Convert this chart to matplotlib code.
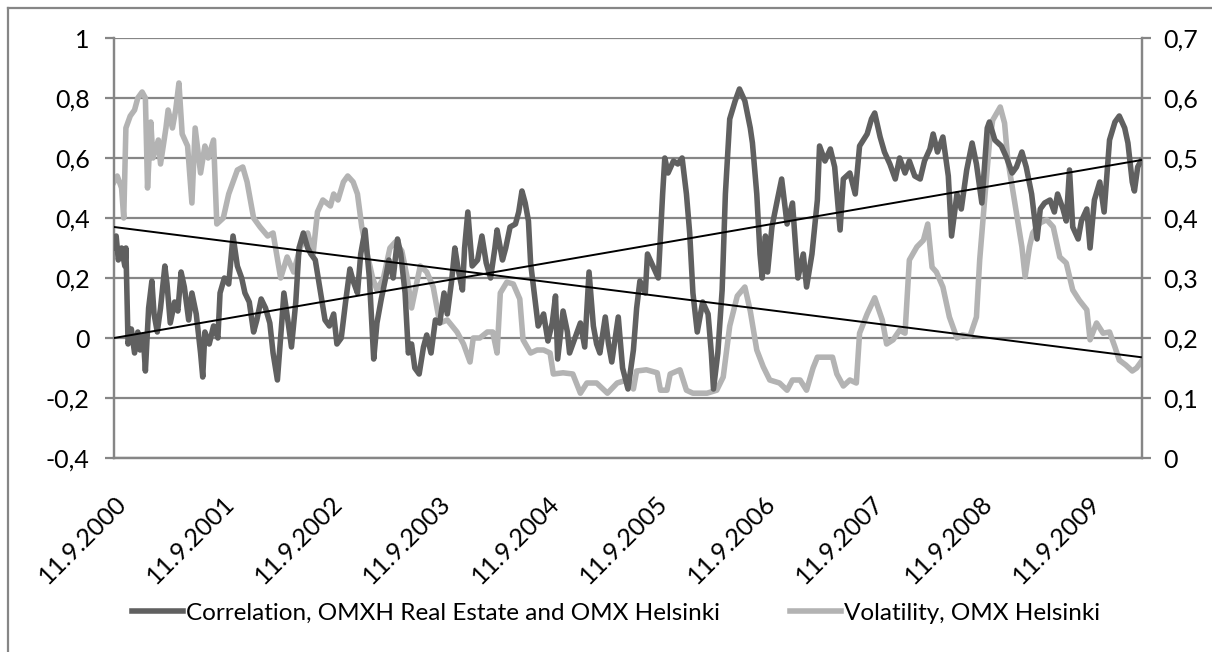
import datetime as dt
import numpy as np
import matplotlib
matplotlib.use("Agg")
import matplotlib.pyplot as plt
from matplotlib.lines import Line2D

plt.rcParams['font.family'] = ['Lato', 'DejaVu Sans']

# ---------------- data (decimal years, values) ----------------
corr_t = [2000.69, 2000.71, 2000.73, 2000.76, 2000.79, 2000.80, 2000.82, 2000.85, 2000.88, 2000.91,
          2000.93, 2000.96, 2000.98, 2001.01, 2001.04, 2001.06, 2001.09, 2001.12, 2001.16, 2001.18,
          2001.21, 2001.25, 2001.28, 2001.31, 2001.34, 2001.38, 2001.41, 2001.45, 2001.49, 2001.51,
          2001.53, 2001.57, 2001.61, 2001.65, 2001.67, 2001.71, 2001.75, 2001.79, 2001.83, 2001.87,
          2001.90, 2001.94, 2001.98, 2002.01, 2002.05, 2002.09, 2002.13, 2002.16, 2002.20, 2002.24,
          2002.26, 2002.30, 2002.33, 2002.37, 2002.40, 2002.44, 2002.48, 2002.51, 2002.55, 2002.60,
          2002.64, 2002.68, 2002.72, 2002.75, 2002.79, 2002.83, 2002.87, 2002.90, 2002.94, 2002.97,
          2003.01, 2003.05, 2003.09, 2003.12, 2003.16, 2003.20, 2003.23, 2003.27, 2003.31, 2003.34,
          2003.38, 2003.41, 2003.44, 2003.47, 2003.51, 2003.55, 2003.58, 2003.62, 2003.66, 2003.70,
          2003.74, 2003.77, 2003.81, 2003.84, 2003.87, 2003.91, 2003.93, 2003.96, 2004.00, 2004.05,
          2004.09, 2004.13, 2004.17, 2004.21, 2004.23, 2004.28, 2004.31, 2004.35, 2004.40, 2004.43,
          2004.46, 2004.49, 2004.52, 2004.54, 2004.57, 2004.61, 2004.66, 2004.70, 2004.74, 2004.77,
          2004.79, 2004.84, 2004.88, 2004.90, 2004.95, 2005.00, 2005.04, 2005.08, 2005.12, 2005.15,
          2005.18, 2005.23, 2005.26, 2005.29, 2005.35, 2005.39, 2005.44, 2005.49, 2005.52, 2005.55,
          2005.60, 2005.62, 2005.67, 2005.72, 2005.76, 2005.78, 2005.81, 2005.86, 2005.90, 2005.94,
          2005.98, 2006.01, 2006.04, 2006.08, 2006.13, 2006.18, 2006.21, 2006.23, 2006.27, 2006.31,
          2006.34, 2006.38, 2006.43, 2006.47, 2006.52, 2006.57, 2006.59, 2006.63, 2006.66, 2006.68,
          2006.71, 2006.73, 2006.77, 2006.82, 2006.86, 2006.91, 2006.96, 2007.01, 2007.06, 2007.09,
          2007.14, 2007.19, 2007.21, 2007.26, 2007.31, 2007.35, 2007.40, 2007.43, 2007.49, 2007.54,
          2007.58, 2007.65, 2007.69, 2007.72, 2007.77, 2007.81, 2007.86, 2007.91, 2007.95, 2008.00,
          2008.04, 2008.09, 2008.14, 2008.18, 2008.23, 2008.26, 2008.30, 2008.35, 2008.40, 2008.43,
          2008.48, 2008.52, 2008.57, 2008.62, 2008.66, 2008.71, 2008.76, 2008.78, 2008.83, 2008.89,
          2008.94, 2008.99, 2009.03, 2009.08, 2009.12, 2009.17, 2009.22, 2009.25, 2009.29, 2009.34,
          2009.38, 2009.41, 2009.46, 2009.49, 2009.52, 2009.55, 2009.60, 2009.63, 2009.68, 2009.71,
          2009.75, 2009.80, 2009.84, 2009.89, 2009.94, 2009.98, 2010.03, 2010.06, 2010.10, 2010.12,
          2010.15, 2010.18]
corr_v = [0.30, 0.34, 0.26, 0.30, 0.24, 0.30, -0.02, 0.03, -0.05, 0.02,
          -0.04, 0.01, -0.11, 0.10, 0.19, 0.08, 0.02, 0.10, 0.24, 0.18,
          0.05, 0.12, 0.09, 0.22, 0.17, 0.06, 0.15, 0.08, -0.05, -0.13,
          0.02, -0.02, 0.04, 0.00, 0.15, 0.20, 0.18, 0.34, 0.24, 0.20,
          0.15, 0.12, 0.02, 0.06, 0.13, 0.10, 0.05, -0.05, -0.14, 0.05,
          0.15, 0.05, -0.03, 0.12, 0.30, 0.35, 0.30, 0.28, 0.26, 0.15,
          0.06, 0.04, 0.08, -0.02, 0.00, 0.12, 0.23, 0.19, 0.15, 0.28,
          0.36, 0.20, -0.07, 0.05, 0.13, 0.20, 0.26, 0.20, 0.33, 0.28,
          0.15, -0.05, -0.02, -0.10, -0.12, -0.03, 0.01, -0.05, 0.06, 0.05,
          0.15, 0.08, 0.19, 0.30, 0.23, 0.16, 0.30, 0.42, 0.24, 0.26,
          0.34, 0.25, 0.20, 0.30, 0.36, 0.26, 0.30, 0.37, 0.38, 0.42,
          0.49, 0.45, 0.39, 0.25, 0.16, 0.04, 0.08, -0.01, 0.05, 0.14,
          -0.07, 0.09, 0.02, -0.05, 0.00, 0.05, -0.03, 0.22, 0.04, -0.02,
          -0.05, 0.07, -0.02, -0.08, 0.07, -0.10, -0.17, -0.04, 0.10, 0.19,
          0.15, 0.28, 0.24, 0.20, 0.48, 0.60, 0.55, 0.59, 0.58, 0.60,
          0.48, 0.35, 0.15, 0.02, 0.12, 0.08, -0.05, -0.17, -0.05, 0.16,
          0.48, 0.73, 0.79, 0.83, 0.79, 0.70, 0.65, 0.48, 0.28, 0.20,
          0.34, 0.22, 0.37, 0.46, 0.53, 0.38, 0.45, 0.20, 0.28, 0.17,
          0.28, 0.46, 0.64, 0.59, 0.63, 0.57, 0.36, 0.53, 0.55, 0.48,
          0.64, 0.68, 0.73, 0.75, 0.67, 0.62, 0.58, 0.53, 0.60, 0.55,
          0.59, 0.54, 0.53, 0.59, 0.63, 0.68, 0.62, 0.67, 0.54, 0.34,
          0.48, 0.43, 0.56, 0.65, 0.58, 0.45, 0.70, 0.72, 0.66, 0.64,
          0.60, 0.55, 0.57, 0.62, 0.57, 0.48, 0.33, 0.43, 0.45, 0.46,
          0.42, 0.48, 0.43, 0.39, 0.56, 0.37, 0.33, 0.39, 0.43, 0.30,
          0.46, 0.52, 0.42, 0.66, 0.72, 0.74, 0.70, 0.65, 0.52, 0.49,
          0.57, 0.59]

vol_t = [2000.69, 2000.72, 2000.76, 2000.78, 2000.80, 2000.84, 2000.88, 2000.91, 2000.95, 2000.98,
         2001.00, 2001.03, 2001.05, 2001.10, 2001.12, 2001.17, 2001.19, 2001.23, 2001.26, 2001.29,
         2001.32, 2001.37, 2001.41, 2001.44, 2001.49, 2001.53, 2001.56, 2001.61, 2001.64, 2001.70,
         2001.75, 2001.83, 2001.88, 2001.92, 2001.98, 2002.04, 2002.11, 2002.16, 2002.23, 2002.29,
         2002.35, 2002.41, 2002.48, 2002.53, 2002.57, 2002.62, 2002.69, 2002.72, 2002.76, 2002.81,
         2002.85, 2002.90, 2002.94, 2002.98, 2003.03, 2003.08, 2003.12, 2003.18, 2003.24, 2003.29,
         2003.35, 2003.40, 2003.44, 2003.52, 2003.58, 2003.64, 2003.70, 2003.77, 2003.86, 2003.92,
         2003.98, 2004.01, 2004.07, 2004.14, 2004.19, 2004.23, 2004.26, 2004.32, 2004.38, 2004.44,
         2004.47, 2004.54, 2004.60, 2004.66, 2004.72, 2004.75, 2004.84, 2004.93, 2005.00, 2005.06,
         2005.15, 2005.25, 2005.34, 2005.43, 2005.49, 2005.52, 2005.61, 2005.71, 2005.74, 2005.80,
         2005.83, 2005.92, 2005.98, 2006.04, 2006.17, 2006.26, 2006.32, 2006.38, 2006.45, 2006.52,
         2006.57, 2006.63, 2006.69, 2006.75, 2006.84, 2006.91, 2006.96, 2007.03, 2007.09, 2007.15,
         2007.19, 2007.28, 2007.33, 2007.37, 2007.43, 2007.49, 2007.55, 2007.58, 2007.65, 2007.72,
         2007.79, 2007.83, 2007.89, 2007.95, 2008.00, 2008.04, 2008.11, 2008.17, 2008.21, 2008.25,
         2008.29, 2008.35, 2008.41, 2008.48, 2008.53, 2008.60, 2008.66, 2008.69, 2008.74, 2008.78,
         2008.81, 2008.88, 2008.92, 2008.95, 2008.99, 2009.03, 2009.08, 2009.11, 2009.15, 2009.18,
         2009.25, 2009.31, 2009.37, 2009.43, 2009.49, 2009.55, 2009.61, 2009.68, 2009.71, 2009.77,
         2009.83, 2009.89, 2009.94, 2009.98, 2010.04, 2010.10, 2010.14, 2010.18]
vol_v = [0.46, 0.47, 0.45, 0.40, 0.55, 0.57, 0.58, 0.60, 0.61, 0.60,
         0.45, 0.56, 0.50, 0.53, 0.49, 0.55, 0.58, 0.55, 0.58, 0.625,
         0.54, 0.52, 0.425, 0.55, 0.475, 0.52, 0.50, 0.53, 0.39, 0.40,
         0.44, 0.48, 0.485, 0.46, 0.40, 0.385, 0.37, 0.375, 0.30, 0.335,
         0.31, 0.35, 0.375, 0.34, 0.41, 0.43, 0.42, 0.44, 0.43, 0.46,
         0.47, 0.46, 0.44, 0.385, 0.34, 0.30, 0.28, 0.30, 0.35, 0.36,
         0.345, 0.30, 0.25, 0.32, 0.31, 0.285, 0.225, 0.23, 0.21, 0.19,
         0.16, 0.20, 0.20, 0.21, 0.21, 0.175, 0.275, 0.293, 0.29, 0.265,
         0.197, 0.175, 0.18, 0.18, 0.175, 0.14, 0.142, 0.14, 0.108, 0.125,
         0.125, 0.108, 0.125, 0.13, 0.115, 0.145, 0.147, 0.142, 0.113, 0.113,
         0.14, 0.147, 0.113, 0.108, 0.108, 0.113, 0.135, 0.22, 0.27, 0.285,
         0.245, 0.18, 0.152, 0.13, 0.125, 0.113, 0.13, 0.13, 0.113, 0.15,
         0.168, 0.168, 0.168, 0.14, 0.12, 0.13, 0.125, 0.208, 0.24, 0.267,
         0.23, 0.19, 0.197, 0.213, 0.208, 0.33, 0.352, 0.363, 0.39, 0.318,
         0.31, 0.285, 0.235, 0.20, 0.205, 0.203, 0.235, 0.33, 0.44, 0.525,
         0.563, 0.585, 0.558, 0.497, 0.452, 0.408, 0.352, 0.302, 0.352, 0.375,
         0.392, 0.397, 0.385, 0.335, 0.325, 0.28, 0.263, 0.247, 0.197, 0.225,
         0.208, 0.21, 0.185, 0.163, 0.155, 0.145, 0.15, 0.16]

# linear trend lines (start, end values)
corr_trend = [0.0, 0.593]
vol_trend = [0.385, 0.168]

tick_years = [2000, 2001, 2002, 2003, 2004, 2005, 2006, 2007, 2008, 2009]
tick_labels = ['11.9.%d' % y for y in tick_years]
left_ticks = [-0.4, -0.2, 0.0, 0.2, 0.4, 0.6, 0.8, 1.0]
right_ticks = [0.0, 0.1, 0.2, 0.3, 0.4, 0.5, 0.6, 0.7]

series_names = ['Correlation, OMXH Real Estate and OMX Helsinki', 'Volatility, OMX Helsinki']


def dec_year(y, m, d):
    start = dt.date(y, 1, 1)
    n = (dt.date(y + 1, 1, 1) - start).days
    return y + (dt.date(y, m, d) - start).days / n


def fmt(v):
    s = ('%.1f' % v).replace('.', ',')
    if s.endswith(',0'):
        s = s[:-2]
    if s == '-0':
        s = '0'
    return s


W, H = 1212, 652
fig = plt.figure(figsize=(W / 100, H / 100), dpi=100)
fig.patch.set_facecolor('white')

GRID = '#868686'
DARK = '#606060'
LIGHT = '#b3b3b3'
FS = 18
LW = 4.0

ax = fig.add_axes([114 / W, 194 / H, 1028 / W, 420 / H])
ax2 = ax.twinx()

x_start = corr_t[0]
x_end = corr_t[-1]
ax.set_xlim(x_start, x_end + 0.01)
ax.set_ylim(-0.4, 1.0)
ax2.set_ylim(0.0, 0.7)

# grid
ax.set_yticks(left_ticks)
ax.set_yticklabels([fmt(v) for v in left_ticks], fontsize=FS)
ax.yaxis.grid(True, color=GRID, linewidth=1.6)
ax.set_axisbelow(True)
ax2.set_yticks(right_ticks)
ax2.set_yticklabels([fmt(v) for v in right_ticks], fontsize=FS)

for a in (ax, ax2):
    a.spines['top'].set_visible(False)
    for s in ('left', 'right', 'bottom'):
        a.spines[s].set_color(GRID)
        a.spines[s].set_linewidth(1.6)
ax.tick_params(axis='y', length=6.5, width=1.6, color=GRID, pad=11)
ax2.tick_params(axis='y', length=6.5, width=1.6, color=GRID, pad=9)

xt = [dec_year(y, 9, 11) for y in tick_years]
ax.set_xticks(xt)
ax.set_xticklabels(tick_labels, rotation=45, ha='right', va='top',
                   rotation_mode='anchor', fontsize=FS)
ax.tick_params(axis='x', length=0, pad=24)

# series (drawn in ax2, correlation mapped through ax's data transform)
ax2.plot(vol_t, vol_v, color=LIGHT, linewidth=LW, solid_joinstyle='round', zorder=2)
ax2.plot(corr_t, corr_v, color=DARK, linewidth=LW, solid_joinstyle='round',
         transform=ax.transData, zorder=3)
ax2.plot([x_start, x_end], corr_trend, color='black', linewidth=1.4,
         transform=ax.transData, zorder=4)
ax2.plot([x_start, x_end], vol_trend, color='black', linewidth=1.4, zorder=4)
ax2.set_ylim(0.0, 0.7)
ax.set_xlim(x_start, x_end + 0.01)

# legend
handles = [Line2D([], [], color=DARK, linewidth=4),
           Line2D([], [], color=LIGHT, linewidth=4)]
fig.legend(handles, series_names, loc='center', bbox_to_anchor=(616 / W, 1 - 613 / H),
           ncol=2, frameon=False, fontsize=17.5, handlelength=2.1, handletextpad=0.1,
           columnspacing=2.9)

# outer chart frame
fig.add_artist(Line2D([8 / W, 8 / W], [0, 1 - 8 / H], color=GRID, linewidth=1.6))
fig.add_artist(Line2D([8 / W, 1], [1 - 8 / H, 1 - 8 / H], color=GRID, linewidth=1.6))

fig.savefig('out.png', dpi=100, facecolor='white')
